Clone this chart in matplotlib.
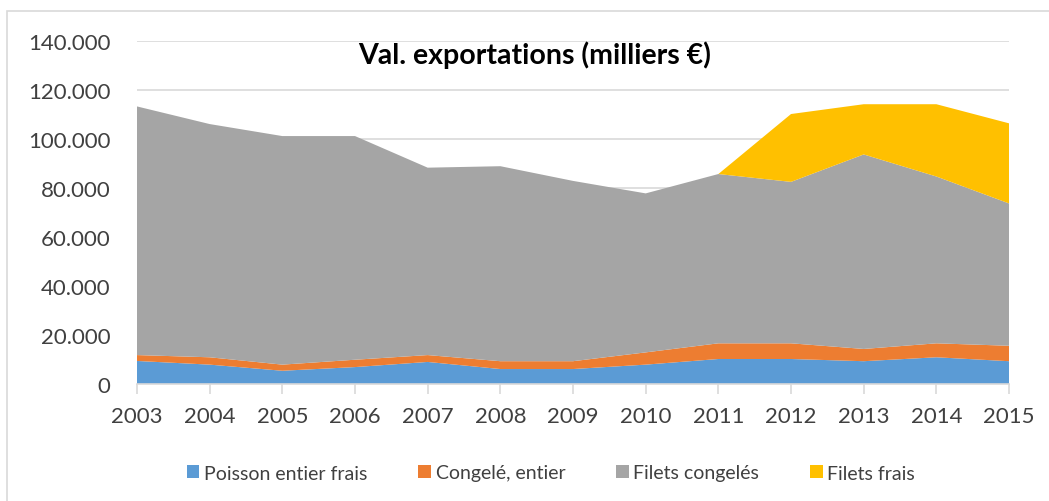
import matplotlib.pyplot as plt
import matplotlib.ticker as ticker
from matplotlib.patches import Rectangle

plt.rcParams['font.family'] = ['Lato', 'DejaVu Sans']

# données (milliers €)
years = [2003, 2004, 2005, 2006, 2007, 2008, 2009, 2010, 2011, 2012, 2013, 2014, 2015]
poisson_frais = [9400, 7900, 5400, 6900, 9000, 6100, 6100, 7900, 10200, 10200, 9300, 10900, 9300]
congele_entier = [2400, 3000, 2500, 3000, 2800, 3200, 3200, 5000, 6400, 6400, 5000, 5700, 6300]
filets_congeles = [101500, 95200, 93300, 91300, 76500, 79600, 73600, 64900, 69100, 65900, 79400, 68100, 58100]
filets_frais = [0, 0, 0, 0, 0, 0, 0, 0, 0, 27700, 20500, 29500, 32700]
labels = ['Poisson entier frais', 'Congelé, entier', 'Filets congelés', 'Filets frais']
colors = ['#5B9BD5', '#ED7D31', '#A5A5A5', '#FFC000']

fig = plt.figure(figsize=(10.49, 5.02), dpi=100)
ax = fig.add_axes([0.1306, 0.2331, 0.8313, 0.6832])

ax.stackplot(years, poisson_frais, congele_entier, filets_congeles, filets_frais,
             colors=colors, labels=labels, linewidth=0, zorder=2)

ax.set_xlim(2003, 2015)
ax.set_ylim(0, 140000)
ax.set_xticks(years)
ax.set_yticks(range(0, 140001, 20000))
ax.yaxis.set_major_formatter(ticker.FuncFormatter(lambda v, p: '{:,.0f}'.format(v).replace(',', '.')))
ax.grid(True, axis='y', color='#D9D9D9', linewidth=1.2, zorder=0)
ax.set_axisbelow(True)

for s in ['top', 'right', 'left']:
    ax.spines[s].set_visible(False)
ax.spines['bottom'].set_color('#D9D9D9')
ax.spines['bottom'].set_linewidth(1.2)
ax.tick_params(axis='x', colors='#D9D9D9', length=7, width=1.2, labelcolor='#404040', labelsize=16, pad=9)
ax.tick_params(axis='y', length=0, labelcolor='#404040', labelsize=16, pad=19)

fig.text(535 / 1049, 1 - 55 / 502, 'Val. exportations (milliers €)',
         ha='center', va='center', fontsize=20.5, fontweight='bold', color='black')

handles, lbls = ax.get_legend_handles_labels()
fig.legend(handles, lbls, loc='center', bbox_to_anchor=(551 / 1049, 1 - 474 / 502), ncol=4,
           frameon=False, fontsize=14, handlelength=0.65, handleheight=0.65,
           handletextpad=0.25, columnspacing=2.6, labelcolor='#404040')

# cadre du graphique
fig.patches.append(Rectangle((7 / 1049, -0.1), 1.2, 1 - 12 / 502 + 0.1, transform=fig.transFigure,
                             fill=False, edgecolor='#D9D9D9', linewidth=1.2))

fig.savefig('out.png', dpi=100)
